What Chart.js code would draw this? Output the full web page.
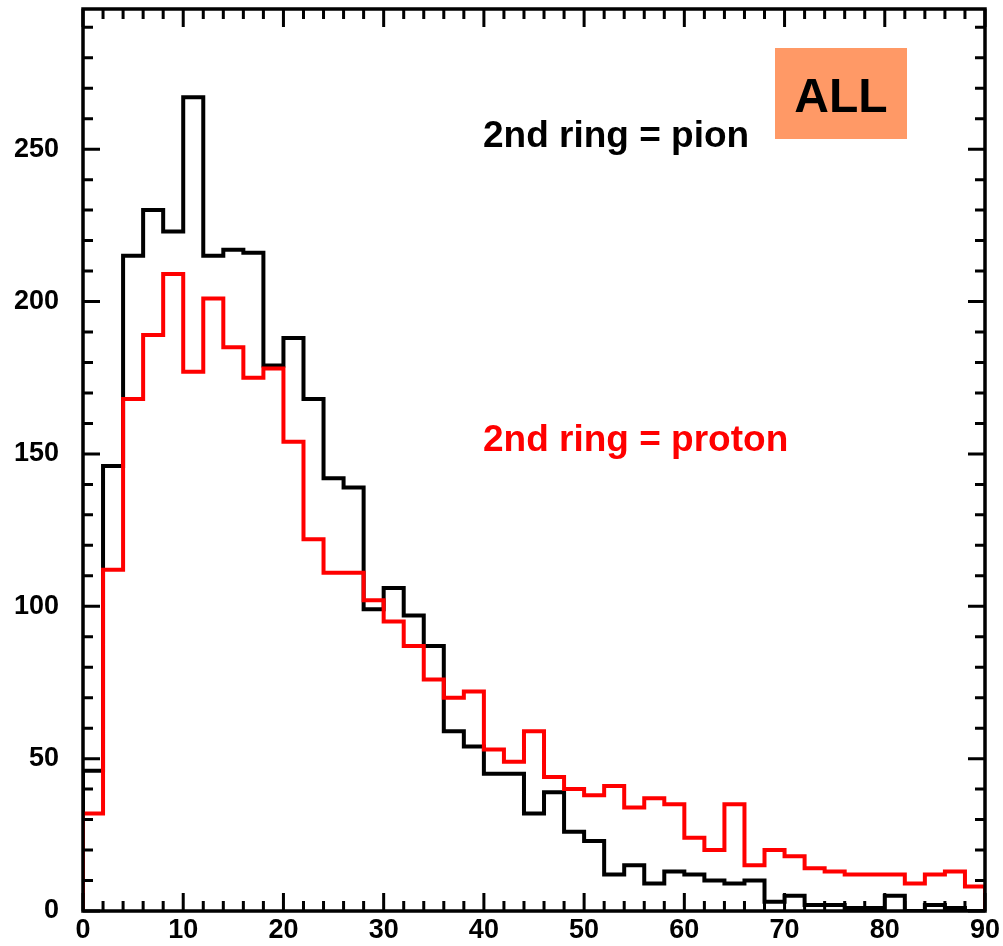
<!DOCTYPE html>
<html>
<head>
<meta charset="utf-8">
<script src="https://cdn.jsdelivr.net/npm/chart.js@4"></script>
<style>
  body { margin:0; background:#fff; }
  canvas { display:block; }
</style>
</head>
<body>
<canvas id="hist" width="1003" height="946"></canvas>
<script>
// bin left edges (width 2)
const binEdges = [0,2,4,6,8,10,12,14,16,18,20,22,24,26,28,30,32,34,36,38,40,42,44,46,48,50,52,54,56,58,60,62,64,66,68,70,72,74,76,78,80,82,84,86,88];
const binWidth = 2;

// 2nd ring = pion (black)
const pionCounts = [46,146,215,230,223,267,215,217,216,179,188,168,142,139,99,106,97,87,59,54,45,45,32,39,26,23,12,15,9,13,12,10,9,10,3,5,2,2,1,1,5,0,2,1,0];
// 2nd ring = proton (red)
const protonCounts = [32,112,168,189,209,177,201,185,175,178,154,122,111,111,102,95,87,76,70,72,53,49,59,44,40,38,41,34,37,35,24,20,35,15,20,18,14,13,12,12,12,9,12,13,8];

const xTicks = [0,10,20,30,40,50,60,70,80,90];
const yTicks = [0,50,100,150,200,250];

// step outline: rise at the first edge, drop at the last edge
function stepPoints(counts){
  const pts = [{x:binEdges[0], y:0}];
  counts.forEach((c,i)=> pts.push({x:binEdges[i], y:c}));
  pts.push({x:binEdges[binEdges.length-1]+binWidth, y:0});
  return pts;
}

const FONT = "'Liberation Sans', Arial, sans-serif";

// frame, inward ticks on all four sides, and the text labels
const framePlugin = {
  id:'frame',
  afterDraw(chart){
    const {ctx, chartArea:a, scales:{x, y}} = chart;
    ctx.save();
    ctx.strokeStyle = '#000';
    ctx.lineWidth = 3.5;
    ctx.strokeRect(a.left, a.top, a.right-a.left, a.bottom-a.top);
    ctx.lineWidth = 3;
    ctx.beginPath();
    for(let v=0; v<=90; v+=2){
      const px = x.getPixelForValue(v);
      const len = v%10===0 ? 18 : 10;
      ctx.moveTo(px, a.bottom); ctx.lineTo(px, a.bottom-len);
      ctx.moveTo(px, a.top); ctx.lineTo(px, a.top+len);
    }
    for(let v=0; v<=y.max; v+=10){
      const py = y.getPixelForValue(v);
      const len = v%50===0 ? 17 : 10;
      ctx.moveTo(a.left, py); ctx.lineTo(a.left+len, py);
      ctx.moveTo(a.right, py); ctx.lineTo(a.right-len, py);
    }
    ctx.stroke();

    // labels
    ctx.textBaseline = 'middle';
    ctx.textAlign = 'left';
    ctx.font = 'bold 37px ' + FONT;
    ctx.fillStyle = '#000';
    ctx.fillText('2nd ring = pion', 483, 137);
    ctx.fillStyle = '#ff0000';
    ctx.fillText('2nd ring = proton', 483, 441);

    ctx.fillStyle = '#ff9966';
    ctx.fillRect(775, 48, 132, 91);
    ctx.fillStyle = '#000';
    ctx.textAlign = 'center';
    ctx.font = 'bold 48px ' + FONT;
    ctx.fillText('ALL', 841, 99);
    ctx.restore();
  }
};

new Chart(document.getElementById('hist'), {
  type:'line',
  data:{
    datasets:[
      { label:'2nd ring = proton', data:stepPoints(protonCounts), borderColor:'#ff0000', borderWidth:4, stepped:'before', pointRadius:0, fill:false },
      { label:'2nd ring = pion', data:stepPoints(pionCounts), borderColor:'#000000', borderWidth:4, stepped:'before', pointRadius:0, fill:false }
    ]
  },
  options:{
    responsive:false,
    animation:false,
    devicePixelRatio:1,
    layout:{ autoPadding:false, padding:{ top:9, right:18, left:0, bottom:0 } },
    plugins:{ legend:{display:false}, tooltip:{enabled:false} },
    scales:{
      x:{
        type:'linear', min:0, max:90,
        grid:{ display:false, drawTicks:false },
        border:{ display:false },
        afterFit(s){ s.height = 35; s.paddingLeft = 0; s.paddingRight = 0; s.paddingTop = 0; s.paddingBottom = 0; },
        afterBuildTicks(s){ s.ticks = xTicks.map(v=>({value:v})); },
        ticks:{ padding:3, color:'#000', font:{ family:FONT, size:27, weight:'bold' }, maxRotation:0, autoSkip:false }
      },
      y:{
        type:'linear', min:0, max:296,
        grid:{ display:false, drawTicks:false },
        border:{ display:false },
        afterFit(s){ s.width = 83; s.paddingLeft = 0; s.paddingRight = 0; s.paddingTop = 0; s.paddingBottom = 0; },
        afterBuildTicks(s){ s.ticks = yTicks.map(v=>({value:v})); },
        ticks:{ padding:24, color:'#000', font:{ family:FONT, size:27, weight:'bold' }, autoSkip:false }
      }
    }
  },
  plugins:[framePlugin]
});
</script>
</body>
</html>
